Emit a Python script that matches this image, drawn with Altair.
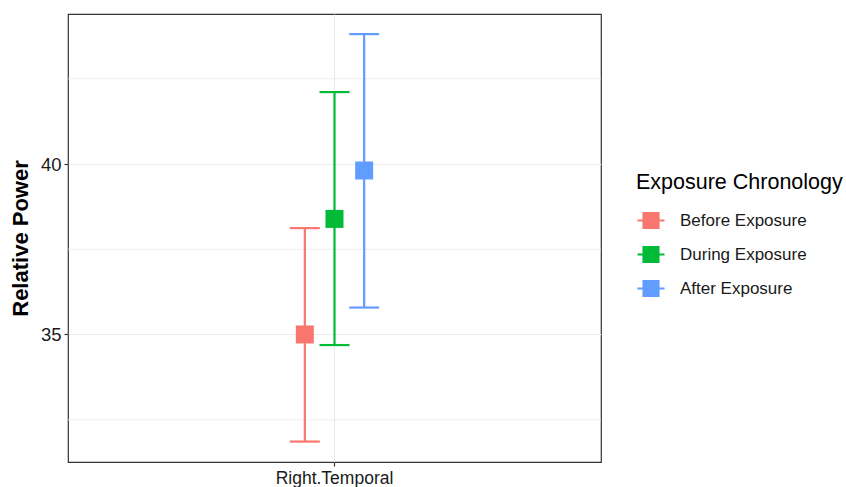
import altair as alt
import pandas as pd

groups = ["Before Exposure", "During Exposure", "After Exposure"]
means = [35.0, 38.39, 39.81]
lows = [31.86, 34.69, 35.79]
highs = [38.12, 42.11, 43.81]
region = "Right.Temporal"
colors = ["#F8766D", "#00BA38", "#619CFF"]
minor_grid = [32.5, 37.5, 42.5]

df = pd.DataFrame({"region": [region] * 3, "group": groups, "mean": means, "low": lows, "high": highs})
grid_df = pd.DataFrame({"v": minor_grid})

FONT = "Liberation Sans"
W, H = 533, 448
ydom = [31.26, 44.40]
dodge_w = 89

x = alt.X("region:N", title=None,
          scale=alt.Scale(paddingInner=0, paddingOuter=0),
          axis=alt.Axis(labelAngle=0, bandPosition=0.5, grid=True, gridColor="#EBEBEB",
                        gridWidth=1.2, tickColor="#333333", tickSize=4, labelFontSize=17.5,
                        labelColor="#1a1a1a", labelFont=FONT, domain=False, labelPadding=3))
xo = alt.XOffset("group:N", sort=groups,
                 scale=alt.Scale(paddingInner=0, paddingOuter=0,
                                 range=[(W - dodge_w) / 2, (W + dodge_w) / 2]))
yscale = alt.Scale(domain=ydom, nice=False, zero=False)
col = alt.Color("group:N", sort=groups, scale=alt.Scale(domain=groups, range=colors),
                legend=alt.Legend(title="Exposure Chronology",
                                  symbolType="M-0.57,-0.57H0.57V0.57H-0.57Z M-0.9,-0.07H0.9V0.07H-0.9Z",
                                  symbolSize=900, symbolStrokeWidth=0, symbolOpacity=1,
                                  orient="none", legendX=568, legendY=158,
                                  titleFontSize=21.5, titleFontWeight="normal", titleFont=FONT,
                                  titleColor="#000000", titlePadding=12, titleLimit=400,
                                  labelFontSize=17, labelFont=FONT, labelColor="#1a1a1a",
                                  labelOffset=14, rowPadding=10, labelLimit=300))

grid = alt.Chart(grid_df).mark_rule(color="#EBEBEB", strokeWidth=0.8).encode(
    y=alt.Y("v:Q", scale=yscale),
    x=alt.value(0), x2=alt.value(W))

base = alt.Chart(df)
rules = base.mark_rule(strokeWidth=2.2).encode(
    x=x, xOffset=xo,
    y=alt.Y("low:Q", scale=yscale,
            axis=alt.Axis(title="Relative Power", values=[35, 40], grid=True, gridColor="#EBEBEB",
                          gridWidth=1.2, tickColor="#333333", tickSize=4, labelFontSize=18.5,
                          labelColor="#1a1a1a", labelFont=FONT, titleFont=FONT, titleFontSize=22,
                          titleFontWeight="bold", titleColor="#000000", domain=False,
                          labelPadding=3, titlePadding=8)),
    y2="high:Q", color=col)
cap_lo = base.mark_tick(orient="horizontal", size=30, thickness=2.2, opacity=1).encode(
    x=x, xOffset=xo, y=alt.Y("low:Q", scale=yscale), color=col)
cap_hi = base.mark_tick(orient="horizontal", size=30, thickness=2.2, opacity=1).encode(
    x=x, xOffset=xo, y=alt.Y("high:Q", scale=yscale), color=col)
pts = base.mark_square(size=324, filled=True, opacity=1).encode(
    x=x, xOffset=xo, y=alt.Y("mean:Q", scale=yscale), color=col)

chart = alt.layer(grid, rules, cap_lo, cap_hi, pts).properties(
    width=W, height=H,
    padding={"left": 68, "top": 14, "right": 846 - 68 - W, "bottom": 487 - 14 - H},
    autosize=alt.AutoSizeParams(type="none"),
    background="white",
).configure_view(stroke="#333333", strokeWidth=1.2).configure_axis(tickWidth=1.2)

chart.save("out.html", embed_options={"renderer": "svg", "actions": False})
